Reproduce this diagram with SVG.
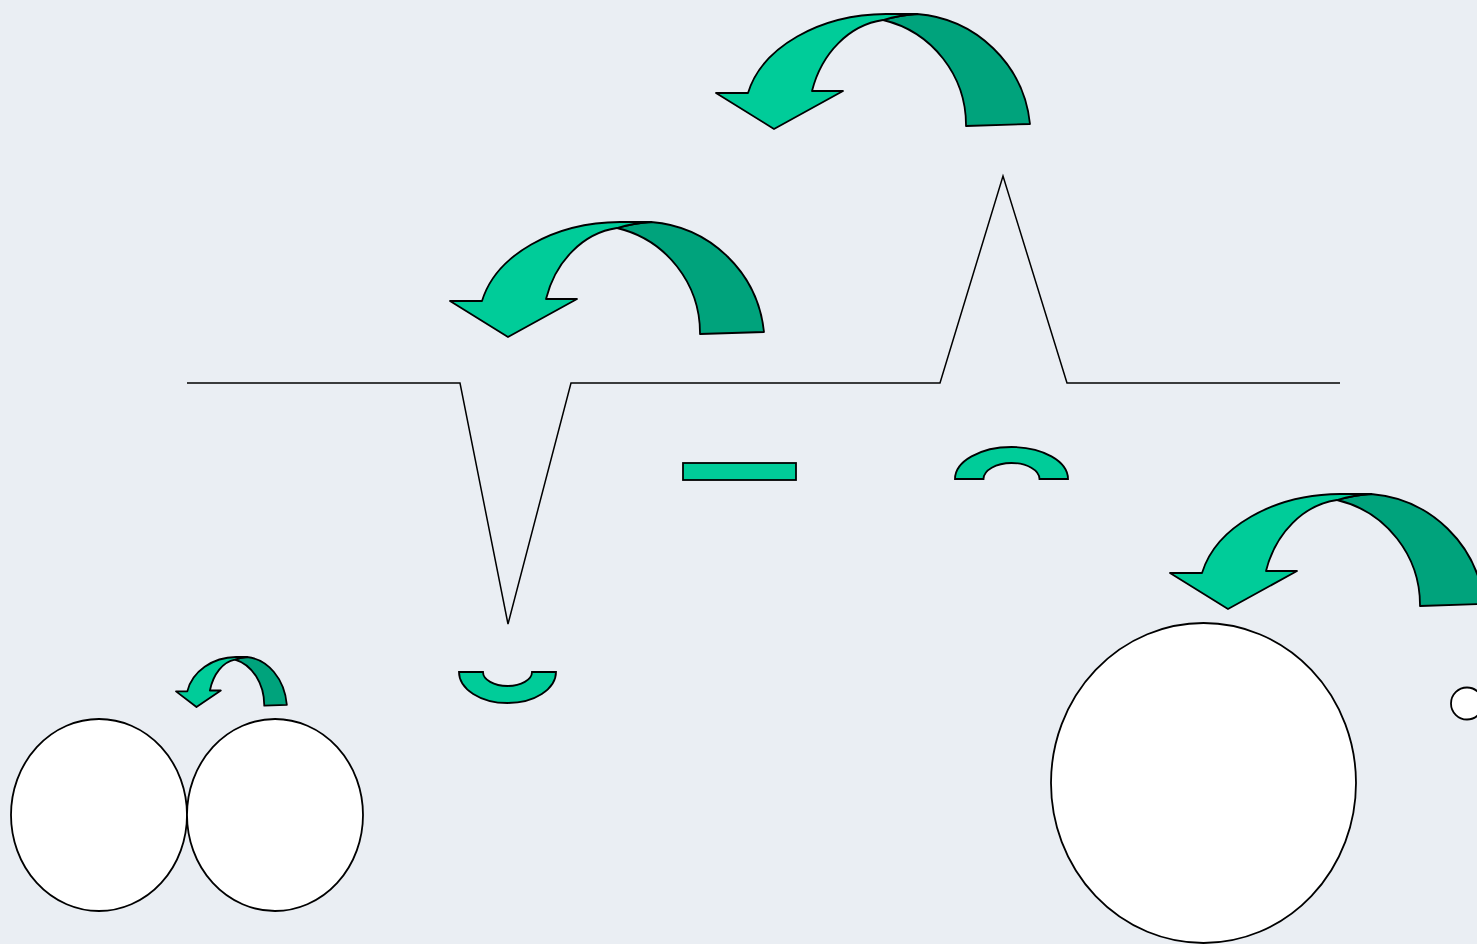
<svg xmlns="http://www.w3.org/2000/svg" width="1477" height="944" viewBox="0 0 1477 944">
<style>
.lt{fill:#00cc99;stroke:#000;stroke-width:1.8;stroke-linejoin:round;vector-effect:non-scaling-stroke}
.dk{fill:#00a37c;stroke:#000;stroke-width:1.8;stroke-linejoin:round;vector-effect:non-scaling-stroke}
.ln{fill:none;stroke:#000;stroke-width:1.5}
.wc{fill:#fff;stroke:#000;stroke-width:1.8}
.sh{fill:#00cc99;stroke:#000;stroke-width:1.8}
</style>
<defs>
<g id="curl">
<path class="dk" d="M201,0 A123,123 0 0 1 314,110 L250,112 A108,108 0 0 0 167,6 Q184,1 201,0 Z"/>
<path class="lt" d="M201,0 L170,0 A142.5,100 0 0 0 32,79 L0,79 L58,115 L127,77 L96,77 A85,100 0 0 1 167,6 Q184,1 201,0 Z"/>
</g>
</defs>
<rect width="1477" height="944" fill="#eaeef3"/>
<g id="connectors">
<polyline class="ln" points="187,383 460,383 508,624 571,383 940,383 1003,176 1067,383 1340,383"/>
</g>
<g id="arrow1"><use href="#curl" transform="translate(716,14)"/></g>
<g id="arrow2"><use href="#curl" transform="translate(450,222)"/></g>
<g id="arrow3"><use href="#curl" transform="translate(1170,494)"/></g>
<g id="arrow4"><use href="#curl" transform="translate(176,657) scale(0.353,0.435)"/></g>
<g id="bar"><rect class="sh" x="683" y="463" width="113" height="17"/></g>
<g id="arch"><path class="sh" d="M955,479 A56.5,32 0 0 1 1068,479 L1039.5,479 A28,16 0 0 0 983.5,479 Z"/></g>
<g id="cup"><path class="sh" d="M459,672 A48.5,31 0 0 0 556,672 L532,672 A24.5,14 0 0 1 483,672 Z"/></g>
<g id="circle1"><ellipse class="wc" cx="99" cy="815" rx="88" ry="96"/></g>
<g id="circle2"><ellipse class="wc" cx="275" cy="815" rx="88" ry="96"/></g>
<g id="circle3"><ellipse class="wc" cx="1203.5" cy="783" rx="152.5" ry="160"/></g>
<g id="circle4"><circle class="wc" cx="1467" cy="703.5" r="16"/></g>
</svg>
